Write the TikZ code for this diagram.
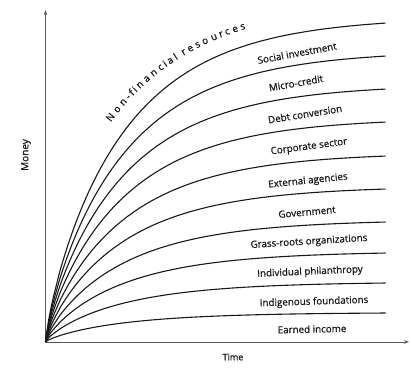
\documentclass[tikz,border=0pt]{standalone}
\usepackage{fontspec}
\setmainfont{Open Sans}
\newfontfamily\semib{Open Sans}[FakeBold=0.7]
\usetikzlibrary{arrows.meta,decorations.text}
\begin{document}
\begin{tikzpicture}[x=1pt,y=-1pt,
  declare function={ff(\t)=((1-exp(-\t/90))^0.8)/0.982;},
  axis/.style={draw=black!65,line width=0.9pt,-{Stealth[length=5pt,width=3.6pt]}},
  curve/.style={draw=black!90,line width=1.1pt},
  lbl/.style={font=\semib\fontsize{9.8}{11}\selectfont,text=black!90,inner sep=0pt}]
\useasboundingbox (0,0) rectangle (411,376);
\coordinate (O) at (45.5,342);
\coordinate (Ytop) at (45.5,10);
\coordinate (Xend) at (409,342);
\draw[axis] (O) -- (Ytop);
\draw[axis] (O) -- (Xend);
\foreach \H in {319,286,253,220,186,153,120,89,59,29}{
  \draw[curve] (O) -- plot[domain=0.5:340,samples=120] ({45.5+\x},{342-\H*ff(\x)});
}
\path[decorate,decoration={text effects along path,text={Non-financial resources},raise=16pt,
   text effects/.cd,text along path,fit text to path,
   every character/.style={font=\semib\fontsize{9.8}{11}\selectfont,text=black!90,inner sep=0pt}}]
   plot[domain=78:205,samples=60] ({45.5+\x},{342-319*ff(\x)});
\node[lbl,rotate=10.5] (l1) at (297,53) {Social investment};
\node[lbl,rotate=10] (l2) at (296,83) {Micro-credit};
\node[lbl,rotate=9] (l3) at (305,114) {Debt conversion};
\node[lbl,rotate=7.5] (l4) at (309,147) {Corporate sector};
\node[lbl,rotate=6] (l5) at (308,181) {External agencies};
\node[lbl,rotate=5] (l6) at (307,212) {Government};
\node[lbl,rotate=3.5] (l7) at (309,242) {Grass-roots organizations};
\node[lbl,rotate=2.5] (l8) at (310,272) {Individual philanthropy};
\node[lbl,rotate=1.8] (l9) at (314,302) {Indigenous foundations};
\node[lbl,rotate=1.2] (l10) at (312,329) {Earned income};
\node[lbl,font=\semib\fontsize{9}{10}\selectfont] (time) at (233,357) {Time};
\node[lbl,rotate=90,font=\semib\fontsize{10}{11}\selectfont] (money) at (26,155) {Money};
\end{tikzpicture}
\end{document}
